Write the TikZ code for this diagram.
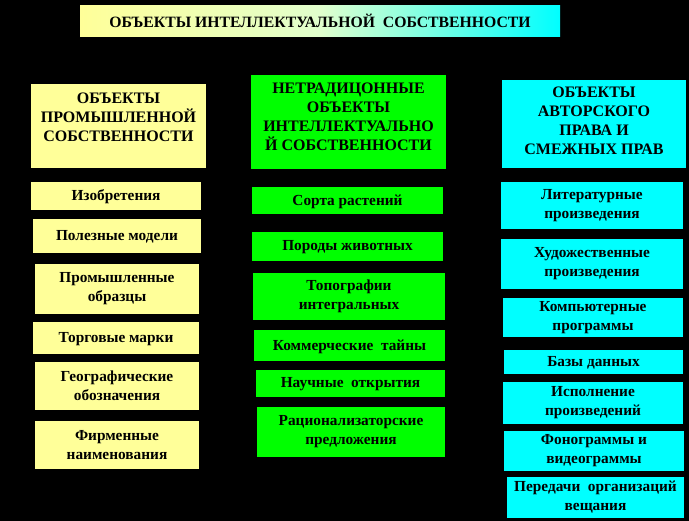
\documentclass[tikz,border=0pt]{standalone}
\usepackage{fontspec}
\setmainfont{Liberation Serif}
\definecolor{cyel}{RGB}{255,255,153}
\definecolor{cgrn}{RGB}{0,255,0}
\definecolor{ccyn}{RGB}{0,255,255}
\definecolor{cmid}{RGB}{225,255,205}
% name, x1, y1, x2, y2, style, text shift (px, up), text
\newcommand\mybox[8]{%
  \node[#6, minimum width={(#4-#2)*0.75pt}, minimum height={(#5-#3)*0.75pt}]
    (#1) at ({(#2+#4)/2},{(#3+#5)/2}) {};
  \node[#6, fill=none, minimum width=0pt, minimum height=0pt]
    (#1-t) at ([yshift={#7*0.75pt}]#1.center) {#8};}
\tikzset{
  base/.style={inner sep=0pt, outer sep=0pt, align=center, font=\bfseries\fontsize{11.5}{14.2}\selectfont, text=black},
  headbox/.style={base, font=\bfseries\fontsize{12}{14.3}\selectfont},
  ybox/.style={base, fill=cyel},
  gbox/.style={base, fill=cgrn},
  cbox/.style={base, fill=ccyn},
}
\begin{document}
\begin{tikzpicture}[x=0.75pt,y=-0.75pt]
\useasboundingbox[fill=black] (0,0) rectangle (689,521);
% title
\node[base, left color=cyel, right color=ccyn, middle color=cmid,
  minimum width=360pt, minimum height=23.25pt]
  (title) at (320,20.5) {};
\node[base, font=\bfseries\fontsize{11.8}{14}\selectfont]
  (title-t) at (title.center) {ОБЪЕКТЫ ИНТЕЛЛЕКТУАЛЬНОЙ\ \ СОБСТВЕННОСТИ};
% headers
\mybox{hl}{31}{84}{206}{168}{headbox,fill=cyel}{9}{ОБЪЕКТЫ\\ПРОМЫШЛЕННОЙ\\СОБСТВЕННОСТИ}
\mybox{hm}{251}{75}{446}{169}{headbox,fill=cgrn}{5}{НЕТРАДИЦОННЫЕ\\ОБЪЕКТЫ\\ИНТЕЛЛЕКТУАЛЬНО\\Й СОБСТВЕННОСТИ}
\mybox{hr}{502}{80}{686}{168}{headbox,fill=ccyn}{3}{ОБЪЕКТЫ\\АВТОРСКОГО\\ПРАВА И\\СМЕЖНЫХ ПРАВ}
% left column
\mybox{l1}{31}{182}{201}{210}{ybox}{-1}{Изобретения}
\mybox{l2}{33}{219}{201}{253}{ybox}{-1}{Полезные модели}
\mybox{l3}{35}{264}{199}{314}{ybox}{0}{Промышленные\\образцы}
\mybox{l4}{33}{322}{199}{354}{ybox}{-1}{Торговые марки}
\mybox{l5}{35}{362}{199}{410}{ybox}{0}{Географические\\обозначения}
\mybox{l6}{35}{421}{199}{469}{ybox}{0}{Фирменные\\наименования}
% middle column
\mybox{m1}{252}{187}{443}{214}{gbox}{-1}{Сорта растений}
\mybox{m2}{252}{232}{443}{261}{gbox}{-1}{Породы животных}
\mybox{m3}{253}{273}{445}{320}{gbox}{0}{Топографии\\интегральных}
\mybox{m4}{254}{330}{445}{361}{gbox}{-1}{Коммерческие\ \ тайны}
\mybox{m5}{256}{370}{445}{397}{gbox}{-1}{Научные\ \ открытия}
\mybox{m6}{257}{407}{445}{457}{gbox}{0}{Рационализаторские\\предложения}
% right column
\mybox{r1}{501}{182}{683}{229}{cbox}{0}{Литературные\\произведения}
\mybox{r2}{501}{239}{683}{289}{cbox}{0}{Художественные\\произведения}
\mybox{r3}{503}{298}{683}{337}{cbox}{0}{Компьютерные\\программы}
\mybox{r4}{504}{350}{683}{374}{cbox}{-1}{Базы данных}
\mybox{r5}{503}{382}{683}{424}{cbox}{0}{Исполнение\\произведений}
\mybox{r6}{504}{431}{684}{471}{cbox}{0}{Фонограммы и\\видеограммы}
\mybox{r7}{507}{477}{684}{518}{cbox}{0}{Передачи\ \ организаций\\вещания}
\end{tikzpicture}
\end{document}
